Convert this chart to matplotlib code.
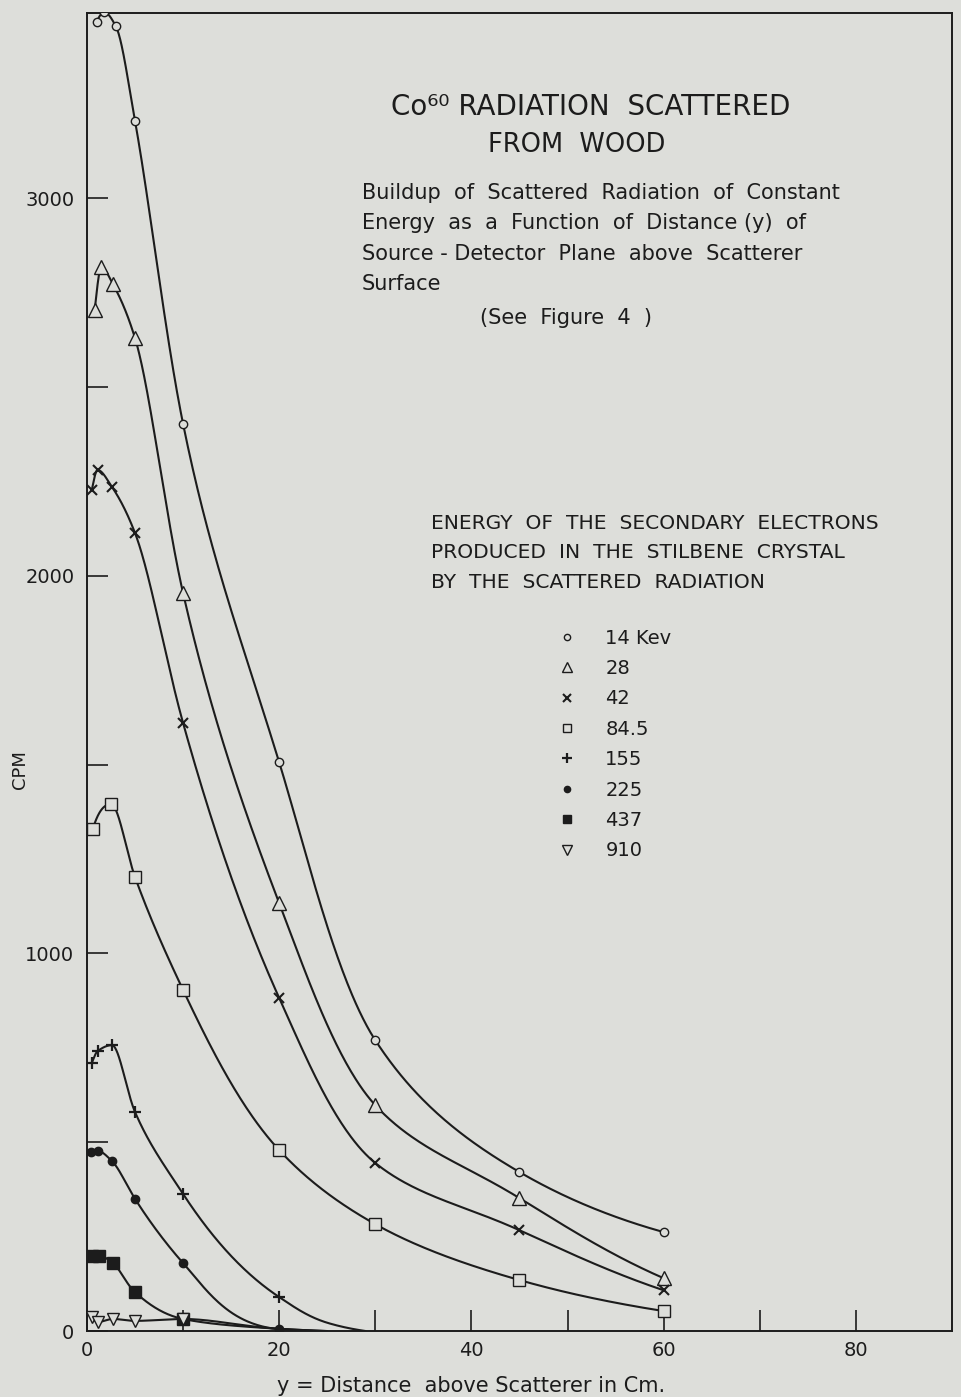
import numpy as np
import matplotlib.pyplot as plt
from matplotlib.lines import Line2D

# distance above scatterer (cm) and counts per minute for each electron energy
dist_14 = [1.0, 1.8, 3.0, 5, 10, 20, 30, 45, 60]
cpm_14 = [3466, 3492, 3455, 3204, 2402, 1506, 770, 421, 262]

dist_28 = [0.8, 1.5, 2.7, 5, 10, 20, 30, 45, 60]
cpm_28 = [2703, 2817, 2772, 2629, 1954, 1133, 598, 352, 140]

dist_42 = [0.5, 1.1, 2.6, 5, 10, 20, 30, 45, 60]
cpm_42 = [2227, 2280, 2235, 2113, 1610, 882, 445, 267, 108]

dist_845 = [0.6, 2.5, 5, 10, 20, 30, 45, 60]
cpm_845 = [1329, 1395, 1202, 903, 479, 283, 135, 53]

dist_155 = [0.5, 1.1, 2.6, 5, 10, 20]
cpm_155 = [710, 741, 757, 580, 363, 90]
tail_155 = ([25, 29], [22, 0])

dist_225 = [0.4, 1.1, 2.6, 5, 10, 20]
cpm_225 = [474, 477, 450, 350, 180, 5]
tail_225 = ([24], [0])

dist_437 = [0.5, 1.3, 2.7, 5, 10]
cpm_437 = [199, 199, 180, 103, 32]
tail_437 = ([20, 25], [6, 0])

dist_910 = [0.5, 1.1, 2.7, 5, 10]
cpm_910 = [38, 24, 32, 27, 32]
tail_910 = ([20, 25], [6, 0])

energy_labels = ['14 Kev', '28', '42', '84.5', '155', '225', '437', '910']

BG = '#dddeda'
INK = '#1c1c1c'
XMAX, YMAX = 90, 3490


def pchip(x, y, n=80):
    h = np.diff(x)
    d = np.diff(y) / h
    m = np.zeros_like(x)
    for k in range(1, len(x) - 1):
        if d[k - 1] * d[k] > 0:
            w1 = 2 * h[k] + h[k - 1]
            w2 = h[k] + 2 * h[k - 1]
            m[k] = (w1 + w2) / (w1 / d[k - 1] + w2 / d[k])

    def end(h0, h1, d0, d1):
        e = ((2 * h0 + h1) * d0 - h0 * d1) / (h0 + h1)
        if np.sign(e) != np.sign(d0):
            return 0.0
        if np.sign(d0) != np.sign(d1) and abs(e) > 3 * abs(d0):
            return 3 * d0
        return e

    m[0] = end(h[0], h[1], d[0], d[1])
    m[-1] = end(h[-1], h[-2], d[-1], d[-2])
    px, py = [], []
    t = np.linspace(0, 1, n)
    for k in range(len(h)):
        h00 = 2 * t**3 - 3 * t**2 + 1
        h10 = t**3 - 2 * t**2 + t
        h01 = -2 * t**3 + 3 * t**2
        h11 = t**3 - t**2
        px.append(x[k] + t * h[k])
        py.append(h00 * y[k] + h10 * h[k] * m[k] + h01 * y[k + 1] + h11 * h[k] * m[k + 1])
    return np.concatenate(px), np.concatenate(py)


def curve(xs, ys, c=40.0):
    # smooth the readings on a shifted log scale, so the decay bends evenly
    x = np.asarray(xs, float)
    y = np.log(np.asarray(ys, float) + c)
    cx, cy = pchip(x, y)
    return cx, np.clip(np.exp(cy) - c, 0, None)


series = [
    (dist_14, cpm_14, None, dict(marker='o', ms=6, mfc=BG)),
    (dist_28, cpm_28, None, dict(marker='^', ms=10, mfc=BG)),
    (dist_42, cpm_42, None, dict(marker='x', ms=7, mew=1.5)),
    (dist_845, cpm_845, None, dict(marker='s', ms=8, mfc=BG)),
    (dist_155, cpm_155, tail_155, dict(marker='+', ms=9, mew=1.6)),
    (dist_225, cpm_225, tail_225, dict(marker='o', ms=6, mfc=INK)),
    (dist_437, cpm_437, tail_437, dict(marker='s', ms=8, mfc=INK)),
    (dist_910, cpm_910, tail_910, dict(marker='v', ms=9, mfc=BG)),
]

plt.rcParams['font.family'] = ['DejaVu Sans']
fig = plt.figure(figsize=(9.61, 13.97), dpi=100, facecolor=BG)
ax = fig.add_axes([0.0905, 0.0472, 0.9001, 0.9435], facecolor=BG)

handles = []
for xs, ys, tail, style in series:
    lx, ly = list(xs), list(ys)
    if tail is not None:
        lx += tail[0]
        ly += tail[1]
    cx, cy = curve(lx, ly)
    ax.plot(cx, cy, color=INK, lw=1.5, zorder=2, solid_capstyle='round')
    ax.plot(xs, ys, ls='none', color=INK, mec=INK, zorder=3, **style)
    small = dict(style)
    small['ms'] = style['ms'] * 0.75
    handles.append(Line2D([], [], ls='none', color=INK, mec=INK, **small))

ax.set_xlim(0, XMAX)
ax.set_ylim(0, YMAX)

ax.set_xticks(range(0, 90, 10))
ax.set_xticklabels(['0', '', '20', '', '40', '', '60', '', '80'])
ax.set_yticks(range(0, 3500, 500))
ax.set_yticklabels(['0', '', '1000', '', '2000', '', '3000'])
ax.tick_params(direction='in', length=15, width=1.2, color=INK,
               labelsize=14, labelcolor=INK)
ax.tick_params(axis='x', pad=7)
ax.tick_params(axis='y', pad=9)
for s in ax.spines.values():
    s.set_linewidth(1.4)
    s.set_color(INK)

ax.set_xlabel('y = Distance  above Scatterer in Cm.', fontsize=15, color=INK)
ax.xaxis.set_label_coords(0.444, -0.034)
ax.set_ylabel('CPM', fontsize=13, color=INK)
ax.yaxis.set_label_coords(-0.067, 0.426)

W, H = 961, 1397


def ftext(px, py, s, **kw):
    fig.text(px / W, 1 - py / H, s, color=INK, va='center', **kw)


ftext(591, 107, 'Co⁶⁰ RADIATION  SCATTERED', fontsize=20, ha='center')
ftext(577, 145, 'FROM  WOOD', fontsize=18.5, ha='center')

sub = ['Buildup  of  Scattered  Radiation  of  Constant',
       'Energy  as  a  Function  of  Distance (y)  of',
       'Source - Detector  Plane  above  Scatterer',
       'Surface']
for i, line in enumerate(sub):
    ftext(362, 193 + i * 30.3, line, fontsize=15)
ftext(480, 318, '(See  Figure  4  )', fontsize=15)

head = ['ENERGY  OF  THE  SECONDARY  ELECTRONS',
        'PRODUCED  IN  THE  STILBENE  CRYSTAL',
        'BY  THE  SCATTERED  RADIATION']
for i, line in enumerate(head):
    ftext(431, 523 + i * 30, line, fontsize=14.6)

ax.legend(handles, energy_labels, loc='upper left',
          bbox_to_anchor=(548 / W, 1 - 619 / H), bbox_transform=fig.transFigure,
          frameon=False, fontsize=14, labelspacing=0.585, handlelength=1.0,
          handletextpad=1.45, borderpad=0, labelcolor=INK)

fig.savefig('out.png', dpi=100, facecolor=BG)
